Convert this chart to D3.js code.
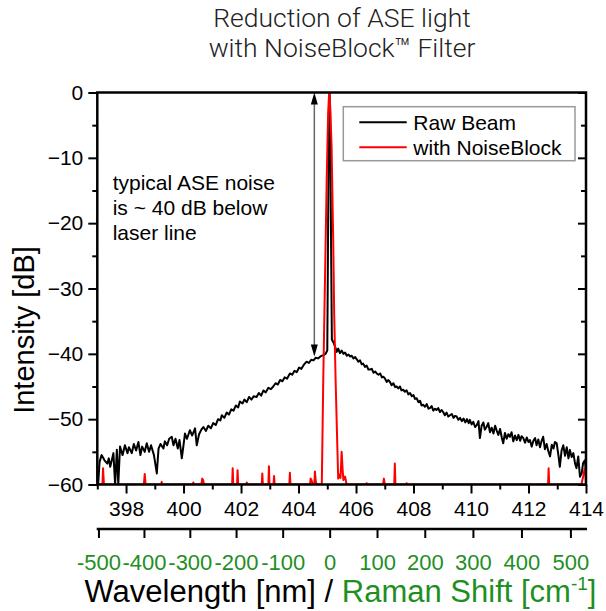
<!DOCTYPE html>
<html>
<head>
<meta charset="utf-8">
<script src="https://cdn.jsdelivr.net/npm/d3@7"></script>
<style>
  body { margin: 0; background: #fff; }
  svg { display: block; font-family: "Liberation Sans", Arial, sans-serif; }
</style>
</head>
<body>
<script>
"use strict";

// Raw beam spectrum, [wavelength nm, intensity dB]
const rawBeam = [
  [397.00,-58.0],[397.03,-60.0],[397.08,-56.5],[397.15,-55.5],[397.25,-56.3],[397.35,-56.8],
  [397.40,-56.0],[397.45,-57.3],[397.56,-55.2],[397.62,-60.0],[397.68,-54.7],[397.73,-60.0],
  [397.79,-54.2],[397.88,-55.5],[397.96,-54.0],[398.05,-55.2],[398.10,-54.3],[398.20,-55.2],
  [398.27,-53.8],[398.35,-54.8],[398.43,-53.5],[398.50,-55.5],[398.56,-54.2],[398.65,-55.0],
  [398.72,-53.7],[398.80,-55.0],[398.87,-54.0],[398.97,-55.5],[399.07,-58.3],[399.13,-54.5],
  [399.20,-53.8],[399.30,-54.5],[399.35,-53.4],[399.43,-54.0],[399.50,-53.0],[399.59,-52.7],
  [399.65,-54.0],[399.72,-53.0],[399.80,-54.5],[399.86,-53.2],[399.94,-56.0],[400.05,-52.2],
  [400.12,-53.0],[400.22,-51.7],[400.30,-52.5],[400.40,-51.4],[400.46,-54.0],[400.54,-52.3],
  [400.62,-51.6],[400.69,-51.2],[400.78,-51.8],[400.86,-51.0],[400.95,-51.4],[401.03,-50.6],
  [401.12,-50.9],[401.20,-50.0],[401.28,-50.2],[401.33,-49.4],[401.42,-49.8],[401.50,-49.0],
  [401.58,-49.3],[401.66,-48.5],[401.74,-48.7],[401.82,-47.9],[401.90,-48.2],[401.96,-47.3],
  [402.05,-47.6],[402.12,-47.0],[402.20,-47.4],[402.28,-46.6],[402.36,-47.0],[402.44,-46.5],
  [402.54,-46.6],[402.62,-46.0],[402.70,-46.4],[402.78,-45.6],[402.86,-45.9],[402.95,-45.2],
  [403.04,-45.4],[403.12,-45.0],[403.20,-44.5],[403.28,-44.7],[403.36,-44.0],[403.44,-44.2],
  [403.52,-43.6],[403.60,-43.8],[403.70,-43.0],[403.78,-43.2],[403.86,-42.6],[403.94,-42.8],
  [404.02,-42.1],[404.10,-42.3],[404.18,-41.7],[404.28,-41.2],[404.36,-41.4],[404.44,-40.9],
  [404.52,-41.0],[404.60,-40.6],[404.68,-40.7],[404.76,-40.4],[404.86,-40.2],[404.94,-40.0],
  [405.00,-39.5],[405.03,-20.0],[405.06,-2.0],[405.08,0.0],[405.10,-3.0],[405.13,-22.0],
  [405.16,-37.8],[405.22,-38.3],[405.27,-38.9],[405.33,-39.7],[405.38,-39.2],[405.44,-39.9],
  [405.50,-39.5],[405.56,-40.0],[405.62,-39.8],[405.68,-40.3],[405.74,-40.1],[405.79,-40.4],
  [405.85,-40.3],[405.91,-40.7],[405.97,-40.5],[406.02,-40.8],[406.08,-41.2],[406.14,-41.0],
  [406.20,-41.6],[406.25,-41.5],[406.31,-42.0],[406.37,-41.8],[406.43,-42.4],[406.49,-42.4],
  [406.55,-42.3],[406.61,-42.9],[406.67,-42.7],[406.72,-43.0],[406.78,-43.2],[406.84,-43.0],
  [406.90,-43.6],[406.95,-43.5],[407.01,-43.8],[407.07,-44.3],[407.12,-44.0],[407.18,-44.3],
  [407.24,-44.8],[407.30,-44.5],[407.36,-45.1],[407.41,-45.0],[407.47,-45.3],[407.53,-45.0],
  [407.58,-45.6],[407.64,-45.5],[407.70,-45.8],[407.76,-45.6],[407.82,-46.2],[407.88,-46.0],
  [407.94,-46.5],[408.00,-46.3],[408.05,-46.9],[408.11,-46.8],[408.17,-47.4],[408.23,-47.2],
  [408.28,-47.9],[408.34,-47.8],[408.40,-48.1],[408.46,-47.7],[408.52,-48.4],[408.57,-48.3],
  [408.63,-48.0],[408.69,-48.7],[408.75,-48.4],[408.80,-48.6],[408.86,-48.3],[408.92,-48.9],
  [408.98,-48.6],[409.03,-48.9],[409.09,-49.4],[409.15,-49.0],[409.21,-49.6],[409.27,-49.4],
  [409.33,-49.2],[409.39,-49.8],[409.44,-49.5],[409.50,-49.6],[409.56,-50.1],[409.62,-49.8],
  [409.68,-50.3],[409.74,-49.9],[409.80,-50.5],[409.86,-50.0],[409.92,-50.6],[409.96,-50.1],
  [410.02,-50.8],[410.08,-50.4],[410.14,-51.2],[410.20,-50.9],[410.26,-50.3],[410.31,-52.9],
  [410.37,-51.0],[410.43,-50.5],[410.48,-51.6],[410.54,-51.2],[410.60,-50.6],[410.66,-52.0],
  [410.72,-51.3],[410.78,-52.2],[410.84,-51.0],[410.89,-51.7],[410.95,-52.4],[411.01,-51.5],
  [411.07,-52.8],[411.12,-53.7],[411.18,-52.1],[411.24,-53.0],[411.30,-52.3],[411.35,-52.7],
  [411.41,-52.0],[411.47,-53.4],[411.53,-52.5],[411.59,-53.2],[411.65,-52.4],[411.71,-53.3],
  [411.76,-52.6],[411.82,-52.9],[411.88,-53.6],[411.94,-52.8],[412.00,-53.5],[412.05,-53.2],
  [412.11,-54.2],[412.17,-53.3],[412.23,-52.9],[412.28,-54.0],[412.34,-53.1],[412.40,-54.3],
  [412.45,-53.4],[412.51,-52.7],[412.57,-54.6],[412.63,-53.8],[412.69,-54.9],[412.75,-55.7],
  [412.81,-53.9],[412.87,-54.5],[412.92,-53.5],[412.98,-53.7],[413.04,-55.5],[413.09,-57.3],
  [413.15,-54.8],[413.21,-54.0],[413.27,-55.6],[413.33,-54.3],[413.39,-56.0],[413.44,-54.7],
  [413.50,-55.8],[413.56,-55.2],[413.62,-56.8],[413.67,-57.5],[413.73,-55.7],[413.79,-58.8],
  [413.85,-58.3],[413.90,-56.7],[413.96,-56.3],[414.00,-58.0]
];

// Filtered spectrum, [wavelength nm, intensity dB]
const noiseBlock = [
  [397.00,-60],[397.18,-60],[397.20,-57.5],[397.23,-60],
  [398.62,-60],[398.65,-58.4],[398.68,-60],
  [399.22,-60],[399.24,-59.6],[399.26,-60],
  [400.32,-60],[400.34,-59.7],[400.36,-60],
  [400.62,-60],[400.65,-59.1],[400.68,-59.3],[400.71,-60],
  [401.69,-60],[401.71,-57.5],[401.73,-60],
  [401.86,-60],[401.88,-57.8],[401.90,-60],
  [402.18,-60],[402.20,-59.7],[402.22,-60],
  [402.72,-60],[402.74,-58.3],[402.76,-60],
  [402.95,-60],[402.97,-57.2],[402.99,-60],
  [403.13,-60],[403.15,-58.7],[403.17,-60],
  [403.68,-60],[403.70,-58.2],[403.72,-60],
  [404.40,-60],[404.42,-59.1],[404.45,-59.3],[404.50,-60],
  [404.55,-60],[404.57,-58.0],[404.60,-59.5],[404.63,-60],
  [404.78,-60],[404.81,-59.8],[404.86,-44.0],[404.92,-28.7],[404.98,-13.4],[405.03,-3.2],
  [405.065,0],[405.10,-2.0],[405.15,-8.3],[405.21,-23.6],[405.24,-33.8],[405.29,-44.0],
  [405.35,-54.2],[405.38,-59.1],[405.42,-58.5],[405.46,-59.0],[405.50,-55.0],[405.53,-57.5],
  [405.56,-59.3],[405.62,-58.8],[405.67,-60],
  [406.35,-60],[406.37,-59.8],[406.39,-60],
  [406.94,-60],[406.97,-59.1],[407.00,-60],
  [407.33,-60],[407.35,-56.8],[407.37,-60],
  [407.74,-60],[407.76,-59.8],[407.78,-60],
  [412.68,-60],[412.70,-57.5],[412.72,-60],
  [413.84,-60],[413.90,-58.8],[413.95,-57.6],[413.98,-58.2],[414.00,-60]
];

const wavelengthTicks = [398, 400, 402, 404, 406, 408, 410, 412, 414];
const wavelengthMinor = [397, 399, 401, 403, 405, 407, 409, 411, 413];
const ramanTicks = [-500, -400, -300, -200, -100, 0, 100, 200, 300, 400, 500];
const intensityTicks = [0, -10, -20, -30, -40, -50, -60];
const intensityMinor = [-5, -15, -25, -35, -45, -55];
const laserNm = 405.1;
const titleLines = ["Reduction of ASE light", "with NoiseBlock\u2122 Filter"];
const noteLines = ["typical ASE noise", "is ~ 40 dB below", "laser line"];
const gapArrow = { nm: 404.55, from: 0, to: -40.4 };
const legendItems = [
  { name: "Raw Beam", color: "#000" },
  { name: "with NoiseBlock", color: "#ff0000" }
];

const W = 606, H = 611;
const plotL = 97.3, plotR = 586, plotT = 92.5, plotB = 484.5;
const green = "#1f8f1f";

const svg = d3.select("body").append("svg")
    .attr("width", W)
    .attr("height", H);

const x = d3.scaleLinear().domain([397, 414]).range([plotL, plotR]);
const y = d3.scaleLinear().domain([-60, 0]).range([plotB, plotT]);

// title
svg.append("text")
    .attr("x", 342).attr("y", 27)
    .attr("text-anchor", "middle")
    .style("font-family", "Roboto, 'Liberation Sans', sans-serif")
    .style("font-weight", 300)
    .style("font-size", "26.5px")
    .attr("fill", "#222")
    .selectAll("tspan")
    .data(titleLines)
    .enter().append("tspan")
        .attr("x", 342)
        .attr("dy", (d, i) => i ? 30 : 0)
        .text(d => d);

svg.append("clipPath").attr("id", "plotclip")
    .append("rect")
        .attr("x", plotL).attr("y", plotT)
        .attr("width", plotR - plotL).attr("height", plotB - plotT);

const line = d3.line().x(d => x(d[0])).y(d => y(d[1]));

const plot = svg.append("g").attr("clip-path", "url(#plotclip)");
plot.append("path")
    .datum(rawBeam)
    .attr("d", line)
    .attr("fill", "none")
    .attr("stroke", "#000")
    .attr("stroke-width", 2)
    .attr("stroke-linejoin", "round");
plot.append("path")
    .datum(noiseBlock)
    .attr("d", line)
    .attr("fill", "none")
    .attr("stroke", "#ff0000")
    .attr("stroke-width", 2)
    .attr("stroke-linejoin", "round");

// axes
function styleAxis(g) {
    g.select(".domain").remove();
    g.selectAll(".tick line").attr("stroke", "#000").attr("stroke-width", 2);
    g.selectAll(".tick text").attr("fill", "#000").style("font-size", "21px")
        .style("font-family", "'Liberation Sans', Arial, sans-serif");
}

svg.append("g")
    .attr("transform", `translate(${plotL},0)`)
    .call(d3.axisLeft(y).tickValues(intensityTicks).tickSize(9).tickPadding(5))
    .call(styleAxis);
svg.append("g")
    .attr("transform", `translate(${plotL},0)`)
    .call(d3.axisLeft(y).tickValues(intensityMinor).tickSize(5).tickFormat(""))
    .call(styleAxis);
svg.append("g")
    .attr("transform", `translate(${plotR},0)`)
    .call(d3.axisLeft(y).tickValues(intensityTicks).tickSize(8).tickFormat(""))
    .call(styleAxis);
svg.append("g")
    .attr("transform", `translate(${plotR},0)`)
    .call(d3.axisLeft(y).tickValues(intensityMinor).tickSize(5).tickFormat(""))
    .call(styleAxis);
svg.append("g")
    .attr("transform", `translate(0,${plotB})`)
    .call(d3.axisBottom(x).tickValues(wavelengthTicks).tickSize(9).tickPadding(7.5).tickFormat(d3.format("d")))
    .call(styleAxis);
svg.append("g")
    .attr("transform", `translate(0,${plotB})`)
    .call(d3.axisBottom(x).tickValues(wavelengthMinor).tickSize(5).tickFormat(""))
    .call(styleAxis);

svg.append("rect")
    .attr("x", plotL).attr("y", plotT)
    .attr("width", plotR - plotL).attr("height", plotB - plotT)
    .attr("fill", "none")
    .attr("stroke", "#000")
    .attr("stroke-width", 2.5);

// Raman shift axis, positions taken from the wavelength scale
const ramanNm = s => 1e7 / (1e7 / laserNm - s);
const raman = svg.append("g").attr("transform", "translate(0,529)");
raman.append("line")
    .attr("x1", plotL - 0.6).attr("x2", plotR + 1)
    .attr("stroke", "#000").attr("stroke-width", 2.5);
const rt = raman.selectAll(".rtick")
    .data(ramanTicks)
    .enter().append("g")
        .attr("transform", d => `translate(${x(ramanNm(d))},0)`);
rt.append("line").attr("y2", 9).attr("stroke", "#000").attr("stroke-width", 2);
rt.append("text")
    .attr("y", 41)
    .attr("text-anchor", "middle")
    .attr("fill", green)
    .style("font-size", "22px")
    .text(d => d);

// axis titles
svg.append("text")
    .attr("transform", "translate(34,330) rotate(-90)")
    .attr("text-anchor", "middle")
    .style("font-size", "29px")
    .text("Intensity [dB]");

const xt = svg.append("text")
    .attr("x", 340.5).attr("y", 602)
    .attr("text-anchor", "middle")
    .style("font-size", "31px");
xt.append("tspan").text("Wavelength [nm] / ");
xt.append("tspan").attr("fill", green).text("Raman Shift [cm");
xt.append("tspan").attr("fill", green).attr("dy", -12).style("font-size", "19px").text("-1");
xt.append("tspan").attr("fill", green).attr("dy", 12).text("]");

// legend
const legend = svg.append("g").attr("transform", "translate(343.3,106.7)");
legend.append("rect")
    .attr("width", 231.7).attr("height", 54)
    .attr("fill", "#fff").attr("stroke", "#999").attr("stroke-width", 1.5);
const li = legend.selectAll(".item")
    .data(legendItems)
    .enter().append("g")
        .attr("transform", (d, i) => `translate(0,${15.6 + i * 25})`);
li.append("line")
    .attr("x1", 16).attr("x2", 63.4)
    .attr("stroke", d => d.color).attr("stroke-width", 2);
li.append("text")
    .attr("x", 70).attr("dy", "0.35em")
    .style("font-size", "21px")
    .text(d => d.name);

// annotation
svg.append("text")
    .attr("x", 112.7).attr("y", 190)
    .style("font-size", "21px")
    .selectAll("tspan")
    .data(noteLines)
    .enter().append("tspan")
        .attr("x", 112.7)
        .attr("dy", (d, i) => i ? 25 : 0)
        .text(d => d);

const ax = x(gapArrow.nm), ay1 = y(gapArrow.from), ay2 = y(gapArrow.to);
svg.append("line")
    .attr("x1", ax).attr("x2", ax)
    .attr("y1", ay1 + 6).attr("y2", ay2 - 6)
    .attr("stroke", "#666").attr("stroke-width", 1.5);
svg.append("path")
    .attr("d", `M${ax},${ay1}L${ax - 3.5},${ay1 + 12}L${ax + 3.5},${ay1 + 12}Z`)
    .attr("fill", "#000");
svg.append("path")
    .attr("d", `M${ax},${ay2}L${ax - 3.5},${ay2 - 12}L${ax + 3.5},${ay2 - 12}Z`)
    .attr("fill", "#000");
</script>
</body>
</html>
